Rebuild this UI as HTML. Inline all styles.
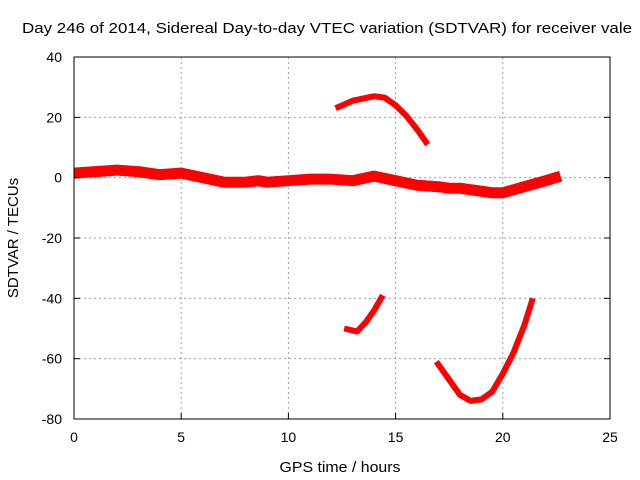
<!DOCTYPE html>
<html><head><meta charset="utf-8"><style>
body{margin:0;background:#fff;}
svg{display:block;font-family:"Liberation Sans",sans-serif;}
</style></head><body>
<svg id="chart" width="640" height="480" viewBox="0 0 640 480">
<text x="22" y="33" font-size="15" textLength="610" lengthAdjust="spacingAndGlyphs">Day 246 of 2014, Sidereal Day-to-day VTEC variation (SDTVAR) for receiver vale</text>
<g id="grid"></g>
<g id="series"></g>
<rect x="74" y="57" width="536" height="362" fill="none" stroke="#000" stroke-width="1"/>
<g id="ticks"></g>
<text x="340" y="472" font-size="15" text-anchor="middle" textLength="121" lengthAdjust="spacingAndGlyphs">GPS time / hours</text>
<text transform="translate(18,238) rotate(-90)" font-size="15" text-anchor="middle">SDTVAR / TECUs</text>
</svg>
<script>
const xTicks=[0,5,10,15,20,25];
const yTicks=[40,20,0,-20,-40,-60,-80];
const mainX=[0,1,2,3,4,5,6,7,8,8.6,9,10,11,12,13,14,15,16,17,17.5,18,19,19.5,20,21,22,22.7];
const mainY=[1.5,2,2.5,2,1,1.5,0,-1.5,-1.5,-1,-1.5,-1,-0.5,-0.5,-1,0.5,-1,-2.5,-3,-3.5,-3.5,-4.5,-5,-5,-3,-1,0.5];
const arcX=[12.2,13,14,14.5,15,15.5,16,16.5];
const arcY=[23,25.5,27,26.5,24,20.5,16,11];
const low1X=[12.6,13.2,13.6,14,14.4];
const low1Y=[-50,-51,-48,-44,-39];
const low2X=[16.9,17.5,18,18.5,19,19.5,20,20.5,21,21.4];
const low2Y=[-61,-67,-72,-74,-73.5,-71,-65,-58,-49,-40];
const NS="http://www.w3.org/2000/svg";
const X=v=>74+v*(536/25);
const Y=v=>57+(40-v)*(362/120);
const grid=document.getElementById('grid'),ticks=document.getElementById('ticks'),ser=document.getElementById('series');
function mk(tag,attrs,parent){const e=document.createElementNS(NS,tag);for(const k in attrs)e.setAttribute(k,attrs[k]);parent.appendChild(e);return e;}
xTicks.forEach(t=>{
 if(t>0&&t<25){const g=mk('line',{x1:X(t),x2:X(t),y1:57,y2:419,stroke:'#a0a0a0','stroke-dasharray':'2,3'},grid);
 
 }
 const l=mk('line',{x1:X(t),x2:X(t),y1:419,y2:413,stroke:'#000'},ticks);
 
 
 const tx=mk('text',{x:X(t),y:442,'font-size':14,'text-anchor':'middle'},ticks);tx.textContent=t;
 
 
});
yTicks.forEach(t=>{
 if(t<40&&t>-80){const g=mk('line',{x1:74,x2:610,y1:Y(t),y2:Y(t),stroke:'#a0a0a0','stroke-dasharray':'2,3'},grid);
 
 }
 const l=mk('line',{x1:74,x2:80,y1:Y(t),y2:Y(t),stroke:'#000'},ticks);
 
 
 const r=mk('line',{x1:604,x2:610,y1:Y(t),y2:Y(t),stroke:'#000'},ticks);
 
 
 const tx=mk('text',{x:62,y:Y(t)+5,'font-size':14,'text-anchor':'end'},ticks);tx.textContent=t;
 
 
});
function series(xs,ys,w,name){
 const pts=xs.map((x,i)=>X(x)+','+Y(ys[i])).join(' ');
 const p=mk('polyline',{points:pts,fill:'none',stroke:'#ff0000','stroke-width':w,'stroke-linejoin':'round','stroke-linecap':'butt'},ser);
 
 
}
series(mainX,mainY,11,'main-band-series');
series(arcX,arcY,6,'upper-arc-series');
series(low1X,low1Y,6,'lower-arc-1-series');
series(low2X,low2Y,6,'lower-arc-2-series');
</script>
</body></html>
